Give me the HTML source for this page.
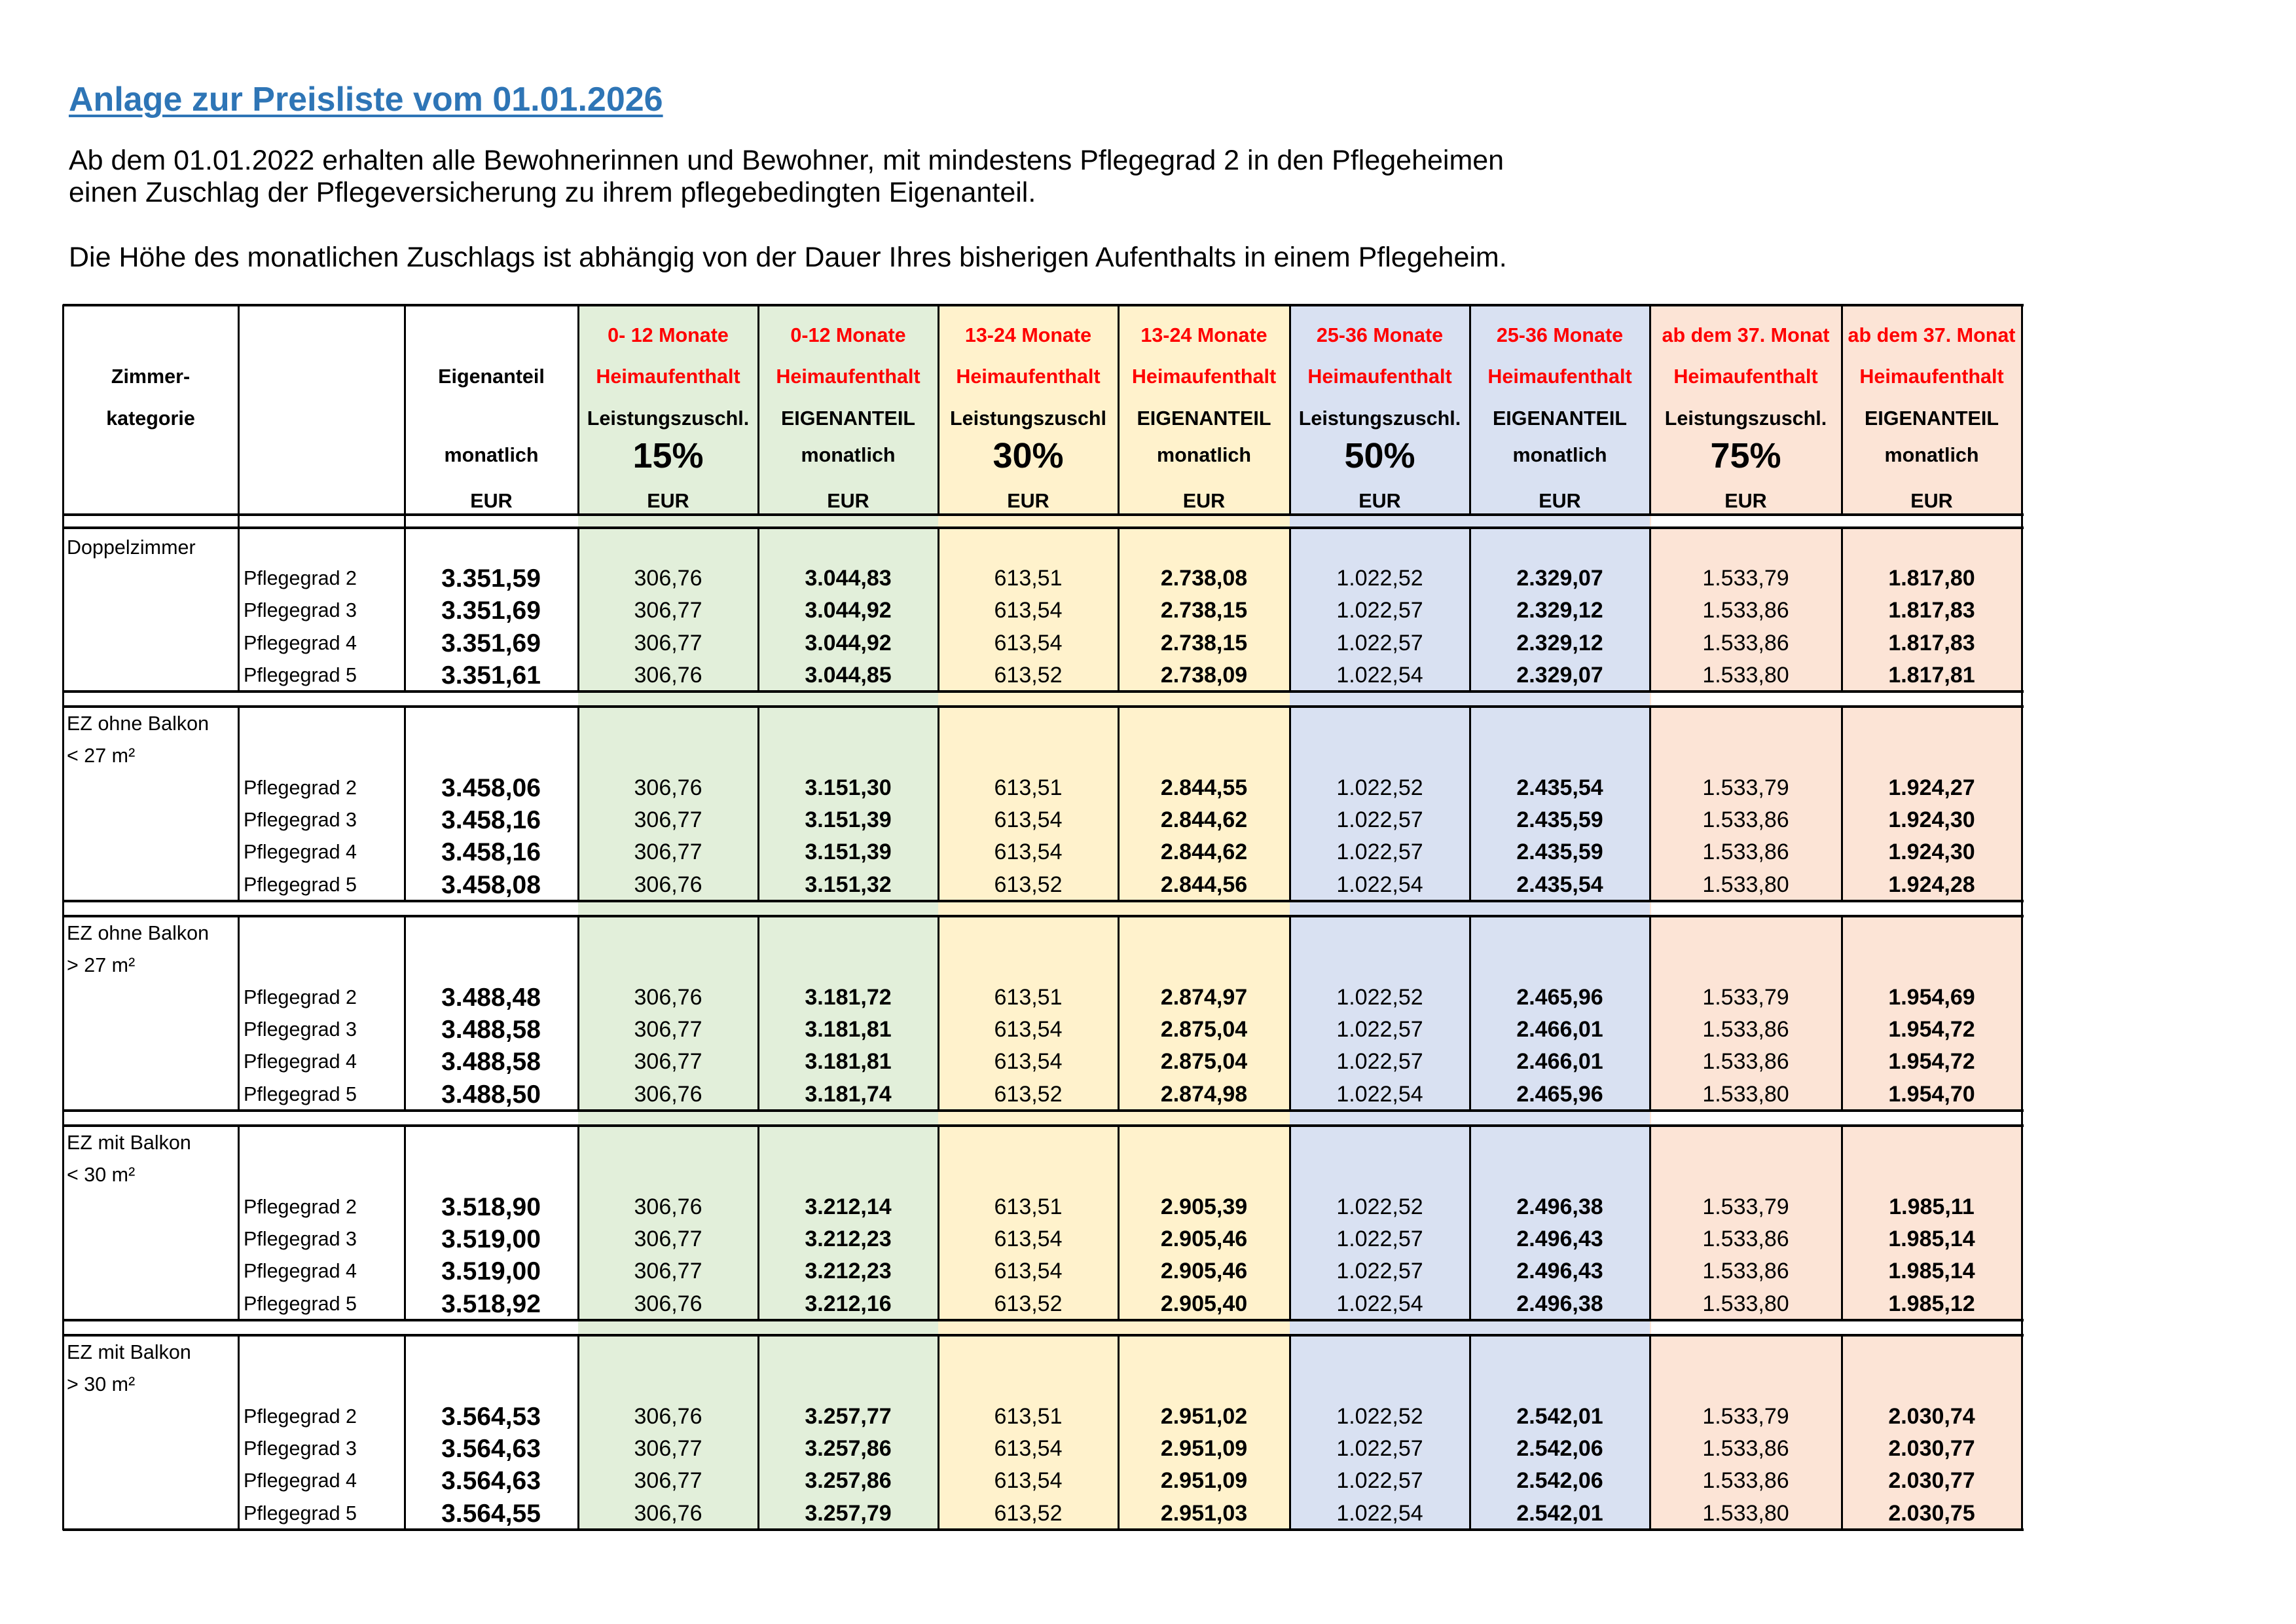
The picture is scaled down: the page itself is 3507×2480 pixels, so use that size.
<!DOCTYPE html>
<html><head><meta charset="utf-8">
<style>
html,body{margin:0;padding:0;background:#fff;}
body{width:3507px;height:2480px;position:relative;overflow:hidden;font-family:"Liberation Sans",Arial,sans-serif;color:#000;}
.t{position:absolute;white-space:nowrap;}
.bg{position:absolute;top:465px;height:1870px;}
.h{position:absolute;left:96px;width:2995px;height:3px;background:#000;}
.v{position:absolute;width:3px;background:#000;}
.hc{position:absolute;text-align:center;font-weight:bold;font-size:30.5px;line-height:40px;white-space:nowrap;}
.red{color:#f00;}
.r{position:absolute;left:96px;display:flex;height:49px;line-height:49px;white-space:nowrap;}
.r span{display:block;text-align:center;font-size:34px;}
.r span:nth-child(1){width:268px;}
.r span:nth-child(2){width:253px;text-align:left;padding-left:8px;box-sizing:border-box;font-size:30.5px;}
.r span:nth-child(3){width:266px;font-weight:bold;font-size:39px;}
.r span:nth-child(4){width:275px;}
.r span:nth-child(5){width:275px;font-weight:bold;}
.r span:nth-child(6){width:275px;}
.r span:nth-child(7){width:262px;font-weight:bold;}
.r span:nth-child(8){width:275px;}
.r span:nth-child(9){width:275px;font-weight:bold;}
.r span:nth-child(10){width:293px;}
.r span:nth-child(11){width:275px;font-weight:bold;}
.lab{position:absolute;left:102px;font-size:30.5px;line-height:49px;}
</style></head><body>
<div class="t" style="left:105px;top:122px;font-size:52px;font-weight:bold;color:#2e75b6;text-decoration:underline;text-decoration-thickness:4px;text-underline-offset:6px;">Anlage zur Preisliste vom 01.01.2026</div>
<div class="t" style="left:105px;top:221px;font-size:43px;">Ab dem 01.01.2022 erhalten alle Bewohnerinnen und Bewohner, mit mindestens Pflegegrad 2 in den Pflegeheimen</div>
<div class="t" style="left:105px;top:270px;font-size:43px;">einen Zuschlag der Pflegeversicherung zu ihrem pflegebedingten Eigenanteil.</div>
<div class="t" style="left:105px;top:369px;font-size:43px;">Die Höhe des monatlichen Zuschlags ist abhängig von der Dauer Ihres bisherigen Aufenthalts in einem Pflegeheim.</div>

<div class="bg" style="left:883px;width:550px;background:#e2efda"></div>
<div class="bg" style="left:1433px;width:537px;background:#fff2cc"></div>
<div class="bg" style="left:1970px;width:550px;background:#d9e1f2"></div>
<div class="bg" style="left:2520px;width:568px;background:#fce4d6"></div>
<div style="position:absolute;left:2522px;width:566px;top:785px;height:20px;background:#fff"></div>
<div style="position:absolute;left:2522px;width:566px;top:1055px;height:23px;background:#fff"></div>
<div style="position:absolute;left:2522px;width:566px;top:1375px;height:23px;background:#fff"></div>
<div style="position:absolute;left:2522px;width:566px;top:1695px;height:23px;background:#fff"></div>
<div style="position:absolute;left:2522px;width:566px;top:2015px;height:23px;background:#fff"></div>

<div class="h" style="top:464px;height:4px"></div>
<div class="h" style="top:784px;height:4px"></div>
<div class="h" style="top:804px;height:4px"></div>
<div class="h" style="top:1054px;height:4px"></div>
<div class="h" style="top:1077px;height:4px"></div>
<div class="h" style="top:1374px;height:4px"></div>
<div class="h" style="top:1397px;height:4px"></div>
<div class="h" style="top:1694px;height:4px"></div>
<div class="h" style="top:1717px;height:4px"></div>
<div class="h" style="top:2014px;height:4px"></div>
<div class="h" style="top:2037px;height:4px"></div>
<div class="h" style="top:2334px;height:4px"></div>

<div class="v" style="left:95px;top:465px;height:1872px"></div>
<div class="v" style="left:3087px;top:465px;height:1872px"></div>

<svg style="position:absolute;left:0;top:0" width="3507" height="2480">
<g stroke="#000" stroke-width="3">
<path d="M364.5 465V805M618.5 465V805M883.5 465V785M1158.5 465V785M1433.5 465V785M1708.5 465V785M1970.5 465V785M2245.5 465V785M2520.5 465V785M2813.5 465V785"/>
<path d="M364.5 805V1055M618.5 805V1055M883.5 805V1055M1158.5 805V1055M1433.5 805V1055M1708.5 805V1055M1970.5 805V1055M2245.5 805V1055M2520.5 805V1055M2813.5 805V1055"/>
<path d="M364.5 1078V1375M618.5 1078V1375M883.5 1078V1375M1158.5 1078V1375M1433.5 1078V1375M1708.5 1078V1375M1970.5 1078V1375M2245.5 1078V1375M2520.5 1078V1375M2813.5 1078V1375"/>
<path d="M364.5 1398V1695M618.5 1398V1695M883.5 1398V1695M1158.5 1398V1695M1433.5 1398V1695M1708.5 1398V1695M1970.5 1398V1695M2245.5 1398V1695M2520.5 1398V1695M2813.5 1398V1695"/>
<path d="M364.5 1718V2015M618.5 1718V2015M883.5 1718V2015M1158.5 1718V2015M1433.5 1718V2015M1708.5 1718V2015M1970.5 1718V2015M2245.5 1718V2015M2520.5 1718V2015M2813.5 1718V2015"/>
<path d="M364.5 2038V2335M618.5 2038V2335M883.5 2038V2335M1158.5 2038V2335M1433.5 2038V2335M1708.5 2038V2335M1970.5 2038V2335M2245.5 2038V2335M2520.5 2038V2335M2813.5 2038V2335"/>
</g></svg>

<div class="hc" style="left:96px;width:268px;top:555px">Zimmer-</div>
<div class="hc" style="left:96px;width:268px;top:619px">kategorie</div>
<div class="hc" style="left:618px;width:265px;top:555px">Eigenanteil</div>
<div class="hc" style="left:618px;width:265px;top:675px">monatlich</div>
<div class="hc" style="left:618px;width:265px;top:745px">EUR</div>

<div class="hc red" style="left:883px;width:275px;top:492px">0- 12 Monate</div>
<div class="hc red" style="left:883px;width:275px;top:555px">Heimaufenthalt</div>
<div class="hc" style="left:883px;width:275px;top:619px">Leistungszuschl.</div>
<div class="hc" style="left:883px;width:275px;top:668px;font-size:54px;line-height:56px">15%</div>
<div class="hc" style="left:883px;width:275px;top:745px">EUR</div>

<div class="hc red" style="left:1158px;width:275px;top:492px">0-12 Monate</div>
<div class="hc red" style="left:1158px;width:275px;top:555px">Heimaufenthalt</div>
<div class="hc" style="left:1158px;width:275px;top:619px">EIGENANTEIL</div>
<div class="hc" style="left:1158px;width:275px;top:675px">monatlich</div>
<div class="hc" style="left:1158px;width:275px;top:745px">EUR</div>

<div class="hc red" style="left:1433px;width:275px;top:492px">13-24 Monate</div>
<div class="hc red" style="left:1433px;width:275px;top:555px">Heimaufenthalt</div>
<div class="hc" style="left:1433px;width:275px;top:619px">Leistungszuschl</div>
<div class="hc" style="left:1433px;width:275px;top:668px;font-size:54px;line-height:56px">30%</div>
<div class="hc" style="left:1433px;width:275px;top:745px">EUR</div>

<div class="hc red" style="left:1708px;width:262px;top:492px">13-24 Monate</div>
<div class="hc red" style="left:1708px;width:262px;top:555px">Heimaufenthalt</div>
<div class="hc" style="left:1708px;width:262px;top:619px">EIGENANTEIL</div>
<div class="hc" style="left:1708px;width:262px;top:675px">monatlich</div>
<div class="hc" style="left:1708px;width:262px;top:745px">EUR</div>

<div class="hc red" style="left:1970px;width:275px;top:492px">25-36 Monate</div>
<div class="hc red" style="left:1970px;width:275px;top:555px">Heimaufenthalt</div>
<div class="hc" style="left:1970px;width:275px;top:619px">Leistungszuschl.</div>
<div class="hc" style="left:1970px;width:275px;top:668px;font-size:54px;line-height:56px">50%</div>
<div class="hc" style="left:1970px;width:275px;top:745px">EUR</div>

<div class="hc red" style="left:2245px;width:275px;top:492px">25-36 Monate</div>
<div class="hc red" style="left:2245px;width:275px;top:555px">Heimaufenthalt</div>
<div class="hc" style="left:2245px;width:275px;top:619px">EIGENANTEIL</div>
<div class="hc" style="left:2245px;width:275px;top:675px">monatlich</div>
<div class="hc" style="left:2245px;width:275px;top:745px">EUR</div>

<div class="hc red" style="left:2520px;width:293px;top:492px">ab dem 37. Monat</div>
<div class="hc red" style="left:2520px;width:293px;top:555px">Heimaufenthalt</div>
<div class="hc" style="left:2520px;width:293px;top:619px">Leistungszuschl.</div>
<div class="hc" style="left:2520px;width:293px;top:668px;font-size:54px;line-height:56px">75%</div>
<div class="hc" style="left:2520px;width:293px;top:745px">EUR</div>

<div class="hc red" style="left:2813px;width:275px;top:492px">ab dem 37. Monat</div>
<div class="hc red" style="left:2813px;width:275px;top:555px">Heimaufenthalt</div>
<div class="hc" style="left:2813px;width:275px;top:619px">EIGENANTEIL</div>
<div class="hc" style="left:2813px;width:275px;top:675px">monatlich</div>
<div class="hc" style="left:2813px;width:275px;top:745px">EUR</div>

<div class="lab" style="top:812px">Doppelzimmer</div>
<div class="r" style="top:859px"><span></span><span>Pflegegrad 2</span><span>3.351,59</span><span>306,76</span><span>3.044,83</span><span>613,51</span><span>2.738,08</span><span>1.022,52</span><span>2.329,07</span><span>1.533,79</span><span>1.817,80</span></div>
<div class="r" style="top:908px"><span></span><span>Pflegegrad 3</span><span>3.351,69</span><span>306,77</span><span>3.044,92</span><span>613,54</span><span>2.738,15</span><span>1.022,57</span><span>2.329,12</span><span>1.533,86</span><span>1.817,83</span></div>
<div class="r" style="top:958px"><span></span><span>Pflegegrad 4</span><span>3.351,69</span><span>306,77</span><span>3.044,92</span><span>613,54</span><span>2.738,15</span><span>1.022,57</span><span>2.329,12</span><span>1.533,86</span><span>1.817,83</span></div>
<div class="r" style="top:1007px"><span></span><span>Pflegegrad 5</span><span>3.351,61</span><span>306,76</span><span>3.044,85</span><span>613,52</span><span>2.738,09</span><span>1.022,54</span><span>2.329,07</span><span>1.533,80</span><span>1.817,81</span></div>

<div class="lab" style="top:1081px">EZ ohne Balkon</div>
<div class="lab" style="top:1130px">&lt; 27 m²</div>
<div class="r" style="top:1179px"><span></span><span>Pflegegrad 2</span><span>3.458,06</span><span>306,76</span><span>3.151,30</span><span>613,51</span><span>2.844,55</span><span>1.022,52</span><span>2.435,54</span><span>1.533,79</span><span>1.924,27</span></div>
<div class="r" style="top:1228px"><span></span><span>Pflegegrad 3</span><span>3.458,16</span><span>306,77</span><span>3.151,39</span><span>613,54</span><span>2.844,62</span><span>1.022,57</span><span>2.435,59</span><span>1.533,86</span><span>1.924,30</span></div>
<div class="r" style="top:1277px"><span></span><span>Pflegegrad 4</span><span>3.458,16</span><span>306,77</span><span>3.151,39</span><span>613,54</span><span>2.844,62</span><span>1.022,57</span><span>2.435,59</span><span>1.533,86</span><span>1.924,30</span></div>
<div class="r" style="top:1327px"><span></span><span>Pflegegrad 5</span><span>3.458,08</span><span>306,76</span><span>3.151,32</span><span>613,52</span><span>2.844,56</span><span>1.022,54</span><span>2.435,54</span><span>1.533,80</span><span>1.924,28</span></div>

<div class="lab" style="top:1401px">EZ ohne Balkon</div>
<div class="lab" style="top:1450px">&gt; 27 m²</div>
<div class="r" style="top:1499px"><span></span><span>Pflegegrad 2</span><span>3.488,48</span><span>306,76</span><span>3.181,72</span><span>613,51</span><span>2.874,97</span><span>1.022,52</span><span>2.465,96</span><span>1.533,79</span><span>1.954,69</span></div>
<div class="r" style="top:1548px"><span></span><span>Pflegegrad 3</span><span>3.488,58</span><span>306,77</span><span>3.181,81</span><span>613,54</span><span>2.875,04</span><span>1.022,57</span><span>2.466,01</span><span>1.533,86</span><span>1.954,72</span></div>
<div class="r" style="top:1597px"><span></span><span>Pflegegrad 4</span><span>3.488,58</span><span>306,77</span><span>3.181,81</span><span>613,54</span><span>2.875,04</span><span>1.022,57</span><span>2.466,01</span><span>1.533,86</span><span>1.954,72</span></div>
<div class="r" style="top:1647px"><span></span><span>Pflegegrad 5</span><span>3.488,50</span><span>306,76</span><span>3.181,74</span><span>613,52</span><span>2.874,98</span><span>1.022,54</span><span>2.465,96</span><span>1.533,80</span><span>1.954,70</span></div>

<div class="lab" style="top:1721px">EZ mit Balkon</div>
<div class="lab" style="top:1770px">&lt; 30 m²</div>
<div class="r" style="top:1819px"><span></span><span>Pflegegrad 2</span><span>3.518,90</span><span>306,76</span><span>3.212,14</span><span>613,51</span><span>2.905,39</span><span>1.022,52</span><span>2.496,38</span><span>1.533,79</span><span>1.985,11</span></div>
<div class="r" style="top:1868px"><span></span><span>Pflegegrad 3</span><span>3.519,00</span><span>306,77</span><span>3.212,23</span><span>613,54</span><span>2.905,46</span><span>1.022,57</span><span>2.496,43</span><span>1.533,86</span><span>1.985,14</span></div>
<div class="r" style="top:1917px"><span></span><span>Pflegegrad 4</span><span>3.519,00</span><span>306,77</span><span>3.212,23</span><span>613,54</span><span>2.905,46</span><span>1.022,57</span><span>2.496,43</span><span>1.533,86</span><span>1.985,14</span></div>
<div class="r" style="top:1967px"><span></span><span>Pflegegrad 5</span><span>3.518,92</span><span>306,76</span><span>3.212,16</span><span>613,52</span><span>2.905,40</span><span>1.022,54</span><span>2.496,38</span><span>1.533,80</span><span>1.985,12</span></div>

<div class="lab" style="top:2041px">EZ mit Balkon</div>
<div class="lab" style="top:2090px">&gt; 30 m²</div>
<div class="r" style="top:2139px"><span></span><span>Pflegegrad 2</span><span>3.564,53</span><span>306,76</span><span>3.257,77</span><span>613,51</span><span>2.951,02</span><span>1.022,52</span><span>2.542,01</span><span>1.533,79</span><span>2.030,74</span></div>
<div class="r" style="top:2188px"><span></span><span>Pflegegrad 3</span><span>3.564,63</span><span>306,77</span><span>3.257,86</span><span>613,54</span><span>2.951,09</span><span>1.022,57</span><span>2.542,06</span><span>1.533,86</span><span>2.030,77</span></div>
<div class="r" style="top:2237px"><span></span><span>Pflegegrad 4</span><span>3.564,63</span><span>306,77</span><span>3.257,86</span><span>613,54</span><span>2.951,09</span><span>1.022,57</span><span>2.542,06</span><span>1.533,86</span><span>2.030,77</span></div>
<div class="r" style="top:2287px"><span></span><span>Pflegegrad 5</span><span>3.564,55</span><span>306,76</span><span>3.257,79</span><span>613,52</span><span>2.951,03</span><span>1.022,54</span><span>2.542,01</span><span>1.533,80</span><span>2.030,75</span></div>
</body></html>
